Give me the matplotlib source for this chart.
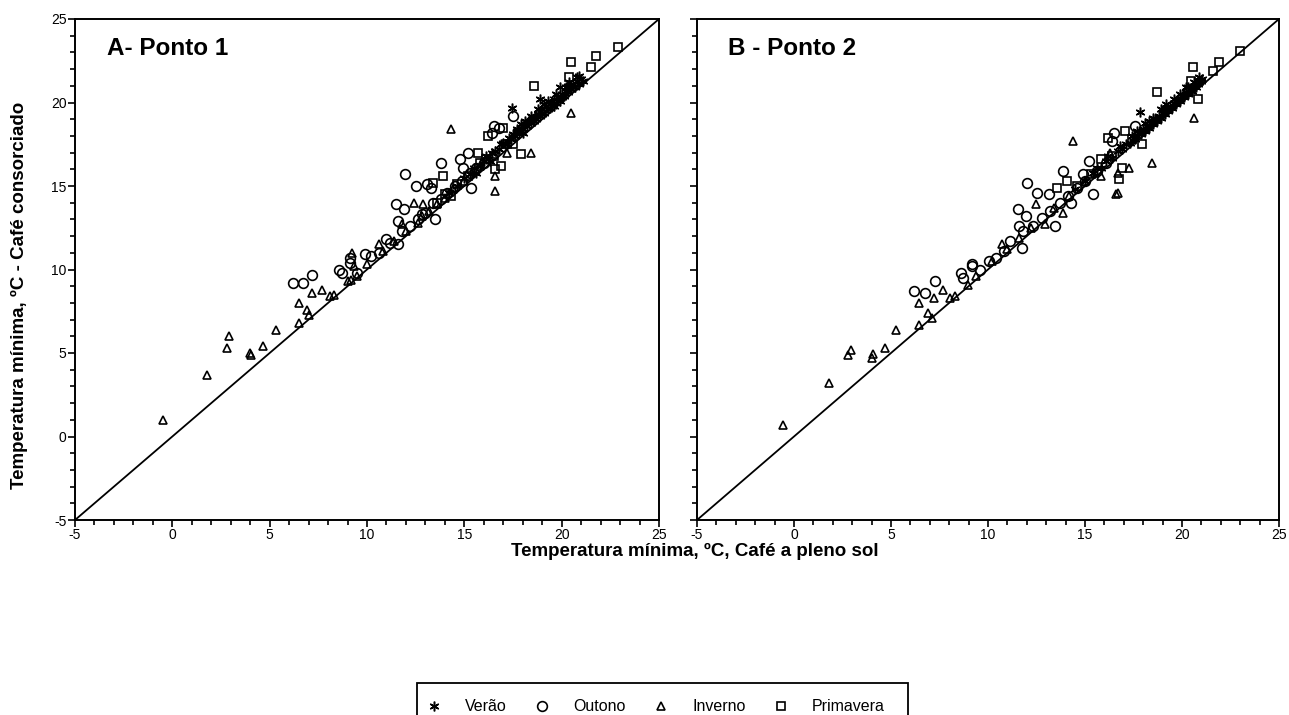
# Temperatura minima: cafe consorciado vs cafe a pleno sol (Ponto 1 e Ponto 2)

import numpy as np
import matplotlib
matplotlib.use("Agg")
import matplotlib.pyplot as plt
from matplotlib.ticker import MultipleLocator
from matplotlib.patches import Rectangle

plt.rcParams['font.family'] = ['Liberation Sans', 'DejaVu Sans']
plt.rcParams['axes.unicode_minus'] = False

# ---- Ponto 1 ----
ver_a_x = [14.2, 14.6, 15.0, 15.3, 15.5, 15.8, 16.0, 16.2, 16.4, 16.6, 16.8, 17.0, 17.1, 17.3, 17.4,
           17.5, 17.6, 17.7, 17.8, 17.9, 18.0, 18.1, 18.2, 18.3, 18.4, 18.5, 18.6, 18.7, 18.8, 18.9,
           19.0, 19.1, 19.2, 19.3, 19.4, 19.5, 19.6, 19.7, 19.8, 19.9, 20.0, 20.1, 20.2, 20.3, 20.4,
           20.5, 20.6, 20.7, 20.8, 20.9, 21.0, 21.1, 17.45, 18.9, 19.9, 20.9, 18.1, 19.0, 19.6, 20.3,
           16.3, 16.9, 17.2, 17.7, 18.0, 18.4, 18.6, 19.1, 19.4, 19.7, 20.0, 20.4, 20.6, 20.8,
           15.6, 16.1, 17.9, 18.8, 19.3, 20.2]
ver_a_y = [14.6, 15.0, 15.5, 15.7, 16.1, 16.2, 16.5, 16.6, 17.0, 17.1, 17.2, 17.6, 17.5, 17.9, 17.8,
           18.1, 18.0, 18.3, 18.2, 18.5, 18.4, 18.7, 18.6, 18.9, 18.8, 19.0, 19.1, 19.0, 19.3, 19.2,
           19.6, 19.4, 19.8, 19.6, 19.9, 19.8, 20.2, 20.0, 20.3, 20.1, 20.5, 20.4, 20.7, 20.6, 20.9,
           20.8, 21.1, 20.9, 21.3, 21.1, 21.4, 21.3, 19.7, 20.2, 20.9, 21.6, 18.9, 19.3, 19.8, 21.0,
           16.5, 17.5, 17.5, 18.4, 18.2, 19.2, 18.9, 19.9, 19.7, 20.5, 20.3, 21.2, 20.9, 21.5,
           15.8, 16.8, 18.7, 19.6, 20.1, 20.9]

out_a_x = [6.2, 6.7, 7.2, 8.55, 8.7, 9.15, 9.15, 9.9, 10.2, 11.0, 11.6, 11.5, 11.9, 11.6, 11.95, 12.5,
           13.5, 13.8, 13.1, 15.2, 14.8, 15.35, 16.5, 16.4, 17.5, 16.8, 14.95, 13.3, 12.8,
           9.5, 10.6, 11.2, 11.8, 12.2, 12.6, 13.0, 13.4, 13.8, 14.1, 14.5, 14.9, 15.3, 15.6, 16.0]
out_a_y = [9.2, 9.2, 9.7, 10.0, 9.8, 10.7, 10.4, 10.9, 10.8, 11.8, 11.5, 13.9, 13.6, 12.9, 15.7, 15.0,
           13.0, 16.4, 15.1, 17.0, 16.6, 14.9, 18.6, 18.2, 19.2, 18.5, 16.1, 14.9, 13.3,
           9.8, 11.0, 11.6, 12.3, 12.6, 13.0, 13.4, 14.0, 14.2, 14.6, 15.0, 15.3, 15.8, 16.1, 16.4]

inv_a_x = [-0.5, 1.8, 2.9, 2.8, 4.0, 4.05, 4.65, 5.3, 6.5, 6.5, 6.9, 7.0, 7.2, 7.7, 8.1, 8.3, 9.25, 9.35,
           9.0, 10.6, 12.4, 14.3, 16.6, 16.6, 18.4, 20.5, 17.2, 12.9, 11.8, 12.6,
           9.2, 9.5, 10.0, 10.8, 11.4, 12.0, 12.8, 13.2, 13.6, 14.0, 14.4, 15.0, 15.8, 16.5]
inv_a_y = [1.0, 3.7, 6.0, 5.3, 5.0, 4.9, 5.4, 6.4, 8.0, 6.8, 7.6, 7.3, 8.6, 8.8, 8.4, 8.5, 11.0, 10.2,
           9.3, 11.5, 14.0, 18.4, 14.7, 15.6, 17.0, 19.4, 17.0, 13.9, 12.7, 12.8,
           9.4, 9.6, 10.3, 11.1, 11.7, 12.3, 13.2, 13.5, 13.9, 14.3, 14.8, 15.3, 16.2, 16.9]

pri_a_x = [22.9, 21.75, 20.5, 21.5, 20.4, 18.6, 17.0, 16.2, 15.7, 17.9, 16.9, 16.6, 13.9, 13.4, 14.3,
           17.5, 15.8, 13.6, 14.0, 14.6, 15.2, 16.1, 16.5, 17.2]
pri_a_y = [23.3, 22.8, 22.4, 22.1, 21.5, 21.0, 18.5, 18.0, 17.0, 16.9, 16.2, 16.0, 15.6, 15.2, 14.4,
           17.5, 16.4, 14.0, 14.5, 15.1, 15.6, 16.6, 16.8, 17.5]

# ---- Ponto 2 ----
ver_b_x = [14.5, 15.0, 15.4, 15.8, 16.1, 16.4, 16.7, 16.9, 17.1, 17.3, 17.5, 17.6, 17.8, 17.9, 18.0,
           18.1, 18.2, 18.3, 18.4, 18.5, 18.6, 18.7, 18.8, 18.9, 19.0, 19.1, 19.2, 19.3, 19.4, 19.5,
           19.6, 19.7, 19.8, 19.9, 20.0, 20.1, 20.2, 20.3, 20.4, 20.5, 20.6, 20.7, 20.8, 20.9, 21.0,
           21.05, 17.85, 18.3, 19.1, 20.2,
           16.2, 16.8, 17.4, 17.7, 18.1, 18.5, 18.9, 19.2, 19.6, 19.9, 20.3, 20.6, 20.9, 15.6]
ver_b_y = [14.8, 15.3, 15.8, 16.1, 16.5, 16.7, 17.1, 17.2, 17.5, 17.6, 17.9, 17.8, 18.2, 18.1, 18.4,
           18.3, 18.6, 18.5, 18.8, 18.7, 19.0, 18.9, 19.2, 19.1, 19.4, 19.3, 19.6, 19.5, 19.8, 19.7,
           20.0, 19.9, 20.2, 20.1, 20.4, 20.3, 20.6, 20.5, 20.8, 20.7, 21.0, 20.9, 21.1, 21.2, 21.3,
           21.4, 19.45, 18.9, 19.7, 20.9,
           16.8, 17.4, 18.0, 18.3, 18.8, 19.1, 19.6, 19.9, 20.2, 20.5, 20.9, 21.2, 21.5, 16.1]

out_b_x = [6.2, 6.75, 7.25, 8.6, 8.7, 9.15, 9.2, 10.05, 10.4, 11.15, 11.75, 11.6, 11.55, 11.95, 12.0,
           12.5, 13.15, 13.45, 13.85, 15.2, 15.4, 14.9, 16.5, 16.4, 17.6, 14.3, 11.8,
           9.6, 10.8, 12.3, 12.8, 13.2, 13.7, 14.1, 14.6, 15.0, 15.6, 16.1]
out_b_y = [8.7, 8.6, 9.3, 9.8, 9.5, 10.3, 10.2, 10.5, 10.7, 11.7, 11.3, 12.6, 13.6, 13.2, 15.2,
           14.6, 14.5, 12.6, 15.9, 16.5, 14.5, 15.7, 18.2, 17.7, 18.6, 14.0, 12.3,
           10.0, 11.1, 12.6, 13.1, 13.5, 14.0, 14.4, 14.9, 15.3, 15.9, 16.4]

inv_b_x = [-0.55, 1.8, 2.95, 2.8, 4.05, 4.0, 4.7, 5.25, 6.45, 6.45, 6.9, 7.1, 7.7, 7.2, 8.05, 8.3, 8.95,
           14.4, 16.6, 16.7, 16.7, 17.25, 18.45, 20.6, 15.8, 13.85, 12.95, 12.45, 16.3, 10.7,
           9.4, 10.2, 11.0, 11.6, 12.2, 13.4, 14.2, 15.0, 15.5]
inv_b_y = [0.7, 3.2, 5.2, 4.9, 4.95, 4.7, 5.3, 6.4, 6.7, 8.0, 7.4, 7.1, 8.8, 8.3, 8.3, 8.4, 9.1,
           17.7, 14.5, 14.6, 15.8, 16.1, 16.4, 19.1, 15.6, 13.4, 12.7, 13.9, 17.0, 11.5,
           9.6, 10.5, 11.2, 11.9, 12.5, 13.7, 14.4, 15.3, 15.8]

pri_b_x = [23.0, 21.9, 20.55, 21.6, 20.45, 18.7, 20.85, 17.05, 16.2, 17.95, 15.8, 16.9, 16.75, 14.05,
           13.55, 14.6, 15.3, 16.4, 17.4]
pri_b_y = [23.1, 22.4, 22.1, 21.9, 21.3, 20.6, 20.2, 18.3, 17.9, 17.5, 16.6, 16.1, 15.4, 15.3,
           14.9, 15.0, 15.7, 16.8, 17.8]

season_names = ['Verão', 'Outono', 'Inverno', 'Primavera']
panel_titles = ['A- Ponto 1', 'B - Ponto 2']

W, H = 1289, 715
fig = plt.figure(figsize=(W / 100, H / 100), dpi=100)
ax_a = fig.add_axes([75/W, 1 - 520/H, 584/W, 501/H])
ax_b = fig.add_axes([697/W, 1 - 520/H, 582/W, 501/H])

star = (6, 2, 0)
styles = [dict(marker=star, ms=7, mew=1.1),
          dict(marker='o', ms=7, mew=1.2),
          dict(marker='^', ms=5.5, mew=1.2),
          dict(marker='s', ms=5.5, mew=1.2)]

panels = [
    (ax_a, [(ver_a_x, ver_a_y), (out_a_x, out_a_y), (inv_a_x, inv_a_y), (pri_a_x, pri_a_y)]),
    (ax_b, [(ver_b_x, ver_b_y), (out_b_x, out_b_y), (inv_b_x, inv_b_y), (pri_b_x, pri_b_y)]),
]

for k, (ax, series) in enumerate(panels):
    ax.plot([-5, 25], [-5, 25], color='black', lw=1.3, zorder=1)
    for (xs, ys), st, name in zip(series, styles, season_names):
        ax.plot(xs, ys, ls='none', mfc='none', mec='black', color='black',
                label=name, zorder=2, **st)
    ax.set_xlim(-5, 25)
    ax.set_ylim(-5, 25)
    ax.xaxis.set_major_locator(MultipleLocator(5))
    ax.yaxis.set_major_locator(MultipleLocator(5))
    ax.xaxis.set_minor_locator(MultipleLocator(1))
    ax.yaxis.set_minor_locator(MultipleLocator(1))
    ax.tick_params(which='major', direction='out', length=5, width=1.2, labelsize=10, pad=1)
    ax.tick_params(which='minor', direction='out', length=3.5, width=1.2)
    for sp in ax.spines.values():
        sp.set_linewidth(1.4)
    ax.text(0.054, 0.964, panel_titles[k], transform=ax.transAxes, fontsize=17.5,
            fontweight='bold', ha='left', va='top')

ax_b.tick_params(labelleft=False)

fig.text(695/W, 1 - 551/H, 'Temperatura mínima, ºC, Café a pleno sol', ha='center',
         va='center', fontsize=13.5, fontweight='bold')
fig.text(19/W, 1 - 295/H, 'Temperatura mínima, ºC - Café consorciado', ha='center',
         va='center', rotation=90, fontsize=13.5, fontweight='bold')

leg_handles = []
for st, name in zip(styles, season_names):
    h, = ax_a.plot([], [], ls='none', mfc='none', mec='black', color='black', label=name, **st)
    leg_handles.append(h)
leg = fig.legend(handles=leg_handles, labels=season_names, loc='upper left', ncol=4,
                 bbox_to_anchor=(411/W, 1 - 688/H), fontsize=11.5, frameon=False,
                 borderpad=0.2, handletextpad=1.2, columnspacing=1.45, handlelength=1.5)
fig.patches.append(Rectangle((417/W, 1 - 730/H), 491/W, 47/H, transform=fig.transFigure,
                             fill=False, edgecolor='black', lw=1.3))

fig.savefig('out.png', dpi=100)
